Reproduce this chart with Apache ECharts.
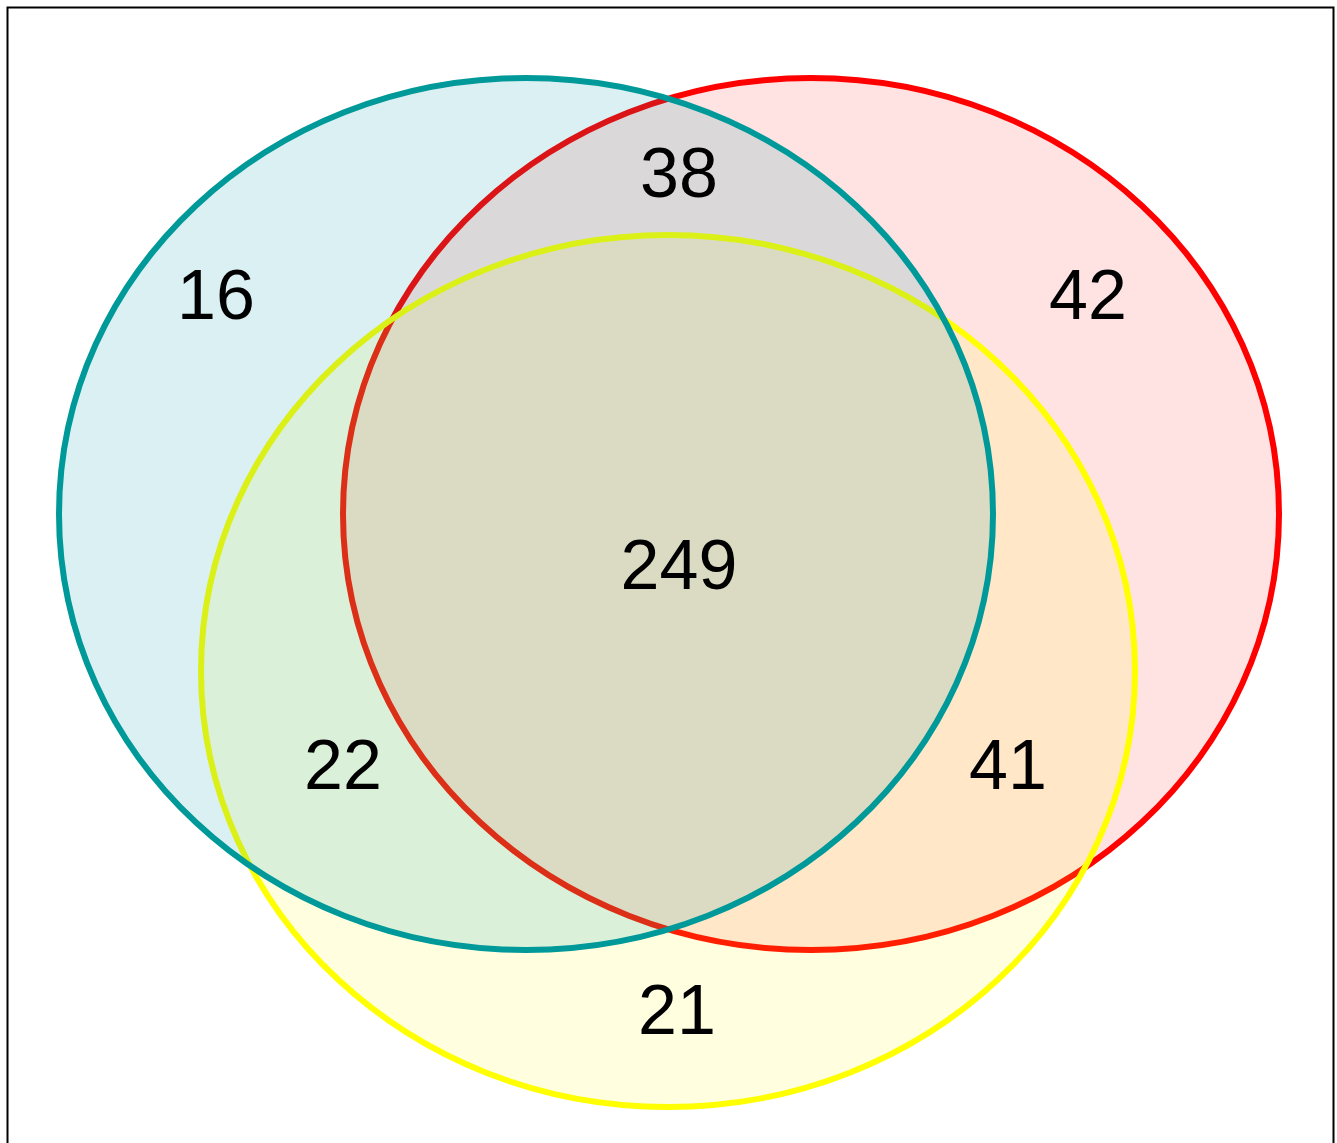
<!DOCTYPE html>
<html>
<head>
<meta charset="utf-8">
<script src="https://cdn.jsdelivr.net/npm/echarts@6/dist/echarts.min.js"></script>
<style>
  html, body { margin: 0; padding: 0; background: #fff; }
  #venn { width: 1337px; height: 1143px; }
</style>
</head>
<body>
<div id="venn"></div>
<script>
// sets, in drawing order (red under yellow under teal)
const setNames = ['red', 'yellow', 'teal']
const setCx = [811, 668, 526]
const setCy = [514, 671, 514]
const setRx = [468, 467, 467]
const setRy = [436, 436, 436]
const setStroke = ['#ff0000', '#ffff00', '#009999']
const setFill = ['rgba(255,0,0,0.11)', 'rgba(255,255,0,0.12)', 'rgba(0,150,165,0.14)']

// region counts and where they sit
const regionCounts = [16, 38, 42, 249, 22, 41, 21]
const regionX = [216, 679, 1088, 679, 343, 1008, 677]
const regionY = [300, 178, 300, 570, 770, 770, 1015]

let myChart = echarts.init(document.getElementById('venn'))

const setData = setNames.map((n, i) => [setCx[i], setCy[i], setRx[i], setRy[i], i])
const labelData = regionCounts.map((v, i) => [regionX[i], regionY[i], v])

let option = {
  animation: false,
  grid: {left: 0, top: 0, right: 0, bottom: 0},
  xAxis: {type: 'value', min: 0, max: 1337, show: false},
  yAxis: {type: 'value', min: 0, max: 1143, inverse: true, show: false},
  graphic: [
    {
      type: 'rect', left: 5, top: 5, z: 10, silent: true,
      shape: {width: 1326, height: 1150},
      style: {fill: 'none', stroke: '#000', lineWidth: 2}
    }
  ],
  series: [
    {
      type: 'custom',
      data: setData,
      renderItem: (params, api) => {
        const c = api.coord([api.value(0), api.value(1)])
        const s = api.size([api.value(2), api.value(3)])
        const i = api.value(4)
        return {
          type: 'ellipse',
          shape: {cx: c[0], cy: c[1], rx: s[0], ry: s[1]},
          style: {fill: setFill[i], stroke: setStroke[i], lineWidth: 6}
        }
      }
    },
    {
      type: 'scatter',
      data: labelData,
      symbolSize: 0,
      z: 5,
      itemStyle: {color: 'transparent'},
      label: {
        show: true,
        position: 'inside',
        formatter: p => String(p.value[2]),
        fontFamily: 'Liberation Sans',
        fontSize: 70,
        color: '#000000',
        opacity: 1,
        textBorderWidth: 0
      }
    }
  ]
}
myChart.setOption(option)
</script>
</body>
</html>
